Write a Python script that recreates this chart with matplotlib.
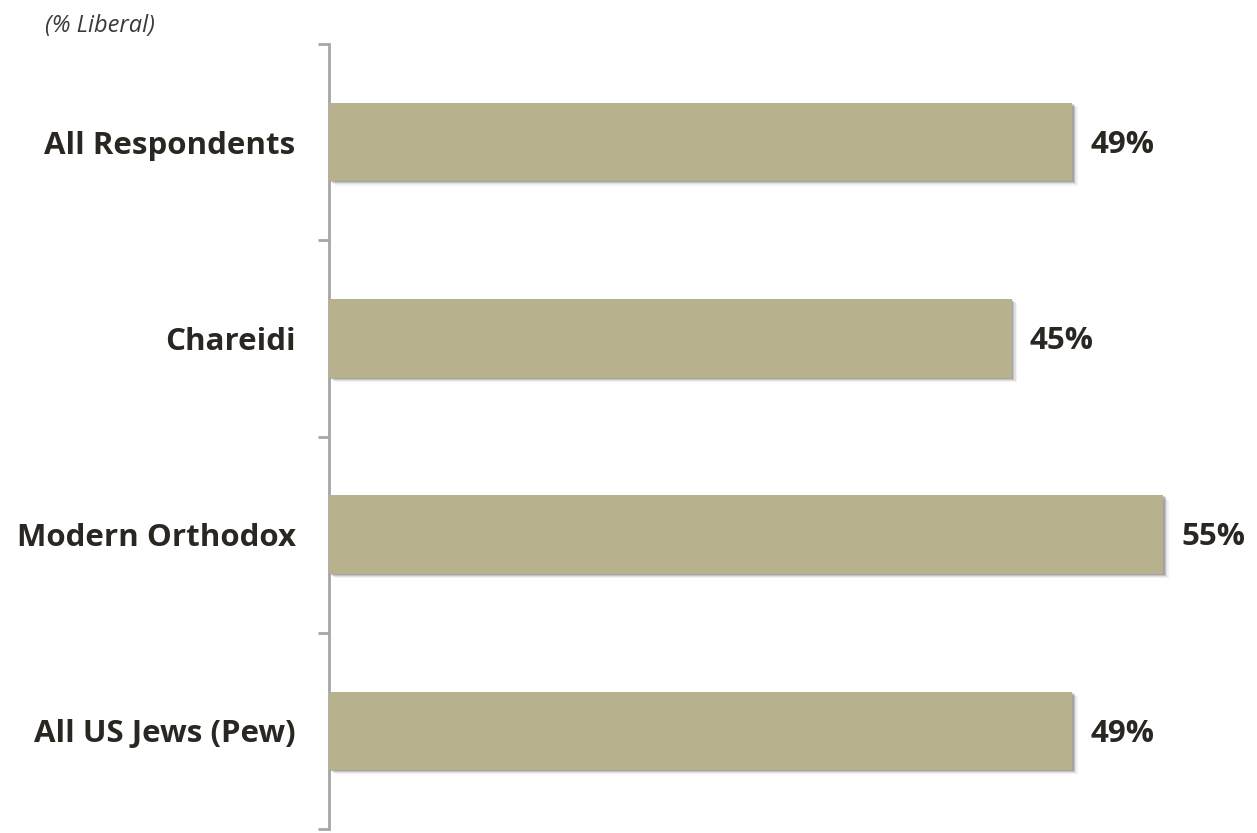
import matplotlib
matplotlib.use("Agg")
import matplotlib.pyplot as plt
import matplotlib.patheffects as pe

categories = ["All Respondents", "Chareidi", "Modern Orthodox", "All US Jews (Pew)"]
values = [49, 45, 55, 49]
value_labels = ["49%", "45%", "55%", "49%"]
subtitle = "(% Liberal)"

BAR_COLOR = "#B7B18D"
TEXT_COLOR = "#2A2722"
AXIS_COLOR = "#A6A6A6"
FONT = ["Open Sans", "DejaVu Sans"]

fig = plt.figure(figsize=(12.57, 8.33), dpi=100)
ax = fig.add_axes([329 / 1257, 4 / 833, 910 / 1257, 785 / 833])

ypos = list(range(len(categories)))
shadow = [
    pe.SimplePatchShadow(offset=(4.0, -3.0), shadow_rgbFace="#000000", alpha=0.05),
    pe.SimplePatchShadow(offset=(3.0, -2.2), shadow_rgbFace="#000000", alpha=0.08),
    pe.SimplePatchShadow(offset=(2.0, -1.4), shadow_rgbFace="#000000", alpha=0.12),
    pe.SimplePatchShadow(offset=(1.0, -0.7), shadow_rgbFace="#000000", alpha=0.16),
    pe.Normal(),
]
bars = ax.barh(ypos, values, height=0.40, color=BAR_COLOR, zorder=3)
for b in bars:
    b.set_path_effects(shadow)

for y, v, lab in zip(ypos, values, value_labels):
    ax.annotate(lab, (v, y), xytext=(13, -2), textcoords="offset points",
                ha="left", va="center", fontsize=22.5, fontweight="bold",
                color=TEXT_COLOR, family=FONT)

ax.set_xlim(0, 60)
ax.set_ylim(len(categories) - 0.5, -0.5)

ax.set_yticks(ypos)
ax.set_yticklabels(categories, fontsize=22.5, fontweight="bold",
                   color=TEXT_COLOR, family=FONT)
ax.tick_params(axis="y", which="major", length=0, pad=24)
ax.set_yticks([i - 0.5 for i in range(len(categories) + 1)], minor=True)
ax.tick_params(axis="y", which="minor", length=8, width=2, color=AXIS_COLOR)
ax.set_xticks([])

for s in ["top", "right", "bottom"]:
    ax.spines[s].set_visible(False)
ax.spines["left"].set_color(AXIS_COLOR)
ax.spines["left"].set_linewidth(2)

fig.text(45 / 1257, 1 - 26 / 833, subtitle, fontsize=17, style="italic",
         color="#3A3A3A", family=FONT, ha="left", va="center")

fig.savefig("out.png", dpi=100, facecolor="white")
